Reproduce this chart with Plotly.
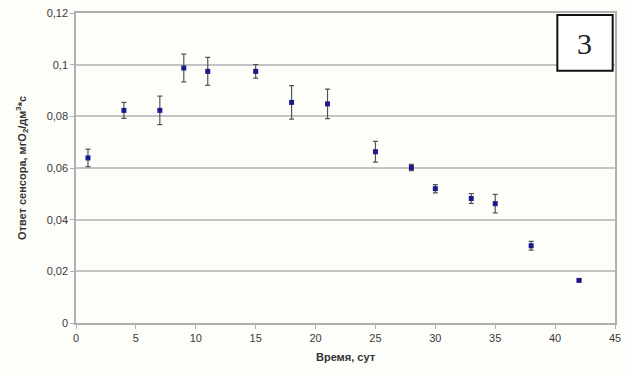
import plotly.graph_objects as go

days = [1, 4, 7, 9, 11, 15, 18, 21, 25, 28, 30, 33, 35, 38, 42]
response = [0.0639, 0.0823, 0.0823, 0.0987, 0.0974, 0.0974, 0.0854, 0.0848,
            0.0663, 0.0602, 0.0520, 0.0482, 0.0462, 0.0299, 0.0165]
err = [0.0034, 0.0031, 0.0055, 0.0054, 0.0054, 0.0026, 0.0065, 0.0057,
       0.0040, 0.0012, 0.0016, 0.0019, 0.0036, 0.0017, 0.0004]

ytick_vals = [0, 0.02, 0.04, 0.06, 0.08, 0.1, 0.12]
ytick_text = ["0", "0,02", "0,04", "0,06", "0,08", "0,1", "0,12"]
xtick_vals = [0, 5, 10, 15, 20, 25, 30, 35, 40, 45]

fig = go.Figure()
fig.add_trace(go.Scatter(
    x=days, y=response, mode="markers",
    marker=dict(symbol="square", size=5, color="#1a1a8c"),
    error_y=dict(type="data", array=err, visible=True, color="#555555",
                 thickness=1.2, width=2.5),
    showlegend=False,
))

font_family = "Liberation Sans, Arial, sans-serif"
fig.update_layout(
    width=632, height=376,
    margin=dict(l=76, r=17, t=13, b=53),
    paper_bgcolor="#fdfdf9", plot_bgcolor="#fdfdf9",
    font=dict(family=font_family, size=11, color="#3a3a3a"),
    xaxis=dict(
        range=[0, 45], tickvals=xtick_vals, showgrid=False, automargin=False,
        showline=True, linecolor="#b0b0b0", linewidth=1.5, mirror=True,
        ticks="outside", ticklen=4, tickcolor="#b0b0b0", zeroline=False,
        title=dict(text="<b>Время, сут</b>", standoff=10,
                   font=dict(size=11, color="#333333")),
    ),
    yaxis=dict(
        range=[0, 0.12], tickvals=ytick_vals, ticktext=ytick_text,
        automargin=False,
        showgrid=True, gridcolor="#c4c4c4", gridwidth=1.5,
        showline=True, linecolor="#b0b0b0", linewidth=1.5, mirror=True,
        ticks="outside", ticklen=4, tickcolor="#b0b0b0", zeroline=False,
        title=dict(text="<b>Ответ сенсора, мгО<sub>2</sub>/дм<sup>3</sup>*с</b>",
                   standoff=18, font=dict(size=11, color="#333333")),
    ),
    shapes=[dict(type="rect", xref="paper", yref="paper",
                 x0=0.893, x1=0.9957, y0=0.814, y1=0.9935,
                 line=dict(color="#111111", width=2), fillcolor="#ffffff")],
    annotations=[dict(text="3", xref="paper", yref="paper", x=0.944, y=0.90,
                      xanchor="center", yanchor="middle",
                      showarrow=False,
                      font=dict(family="Liberation Serif, Times New Roman, serif",
                                size=30, color="#222222"))],
)

fig.write_html("out.html", config={"displayModeBar": False})
with open("out.html", encoding="utf-8") as f:
    html = f.read()
html = html.replace("<body>", '<body style="margin:0;padding:0;overflow:hidden">', 1)
with open("out.html", "w", encoding="utf-8") as f:
    f.write(html)
